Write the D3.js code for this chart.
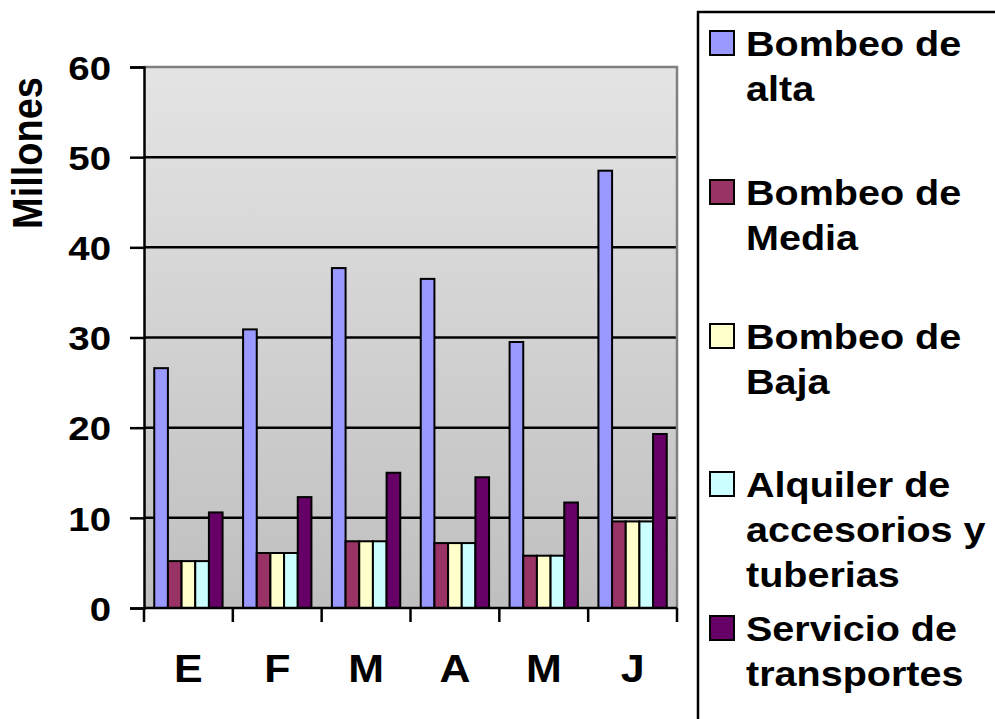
<!DOCTYPE html>
<html lang="es">
<head>
  <meta charset="UTF-8">
  <title>Millones por mes</title>
  <style>
    body { margin: 0; background: #fff; }
    text { font-family: Arial, "Liberation Sans", sans-serif; font-weight: bold; fill: #000; }
  </style>
</head>
<body>
  <svg id="svg" width="995" height="719"></svg>
  <script src="https://cdn.jsdelivr.net/npm/d3@7"></script>
  <script>
    const months = ['E', 'F', 'M', 'A', 'M ', 'J']
    const seriesNames = ['Bombeo de alta', 'Bombeo de Media', 'Bombeo de Baja', 'Alquiler de accesorios y tuberias', 'Servicio de transportes']
    const legendLines = [['Bombeo de', 'alta'], ['Bombeo de', 'Media'], ['Bombeo de', 'Baja'], ['Alquiler de', 'accesorios y', 'tuberias'], ['Servicio de', 'transportes']]
    const colors = ['#9999ff', '#993366', '#ffffcc', '#ccffff', '#660066']

    const bombeoAlta = [26.6, 30.9, 37.7, 36.5, 29.5, 48.5]
    const bombeoMedia = [5.2, 6.1, 7.4, 7.2, 5.8, 9.6]
    const bombeoBaja = [5.2, 6.1, 7.4, 7.2, 5.8, 9.6]
    const alquiler = [5.2, 6.1, 7.4, 7.2, 5.8, 9.6]
    const transportes = [10.6, 12.3, 15.0, 14.5, 11.7, 19.3]
    const yTicks = [0, 10, 20, 30, 40, 50, 60]

    const series = [bombeoAlta, bombeoMedia, bombeoBaja, alquiler, transportes]
    const data = months.map((m, i) => ({ month: m, values: series.map((s, j) => ({ key: seriesNames[j], color: colors[j], value: s[i] })) }))

    const plot = { left: 144, right: 677, top: 67, bottom: 608 }
    const stretch = 1.1

    const svg = d3.select('#svg')

    // background gradient
    const grad = svg.append('defs').append('linearGradient')
      .attr('id', 'bg').attr('x1', 0).attr('y1', 0).attr('x2', 0).attr('y2', 1)
    grad.append('stop').attr('offset', '0%').attr('stop-color', '#e4e4e4')
    grad.append('stop').attr('offset', '100%').attr('stop-color', '#bfbfbf')

    svg.append('rect')
      .attr('x', plot.left).attr('y', plot.top)
      .attr('width', plot.right - plot.left).attr('height', plot.bottom - plot.top)
      .attr('fill', 'url(#bg)')

    const x0 = d3.scaleBand()
      .domain(months)
      .range([plot.left, plot.right])

    const bw = x0.bandwidth()
    const pad = bw * 0.75 / 6.5 // gap width 150%
    const x1 = d3.scaleBand()
      .domain(seriesNames)
      .range([pad, bw - pad])

    const y = d3.scaleLinear()
      .domain([0, 60])
      .range([plot.bottom, plot.top])

    // gridlines
    svg.append('g')
      .selectAll('line')
      .data(yTicks.filter(d => d > 0 && d < 60))
      .enter()
      .append('line')
      .attr('x1', plot.left).attr('x2', plot.right)
      .attr('y1', d => y(d)).attr('y2', d => y(d))
      .attr('stroke', '#000').attr('stroke-width', 2.5)

    // gray border top and right
    svg.append('path')
      .attr('d', `M${plot.left},${plot.top}H${plot.right}V${plot.bottom}`)
      .attr('fill', 'none').attr('stroke', '#808080').attr('stroke-width', 2.5)

    // bars
    const groups = svg.append('g')
      .selectAll('g')
      .data(data)
      .enter()
      .append('g')
      .attr('transform', d => `translate(${x0(d.month)},0)`)

    groups.selectAll('rect')
      .data(d => d.values)
      .enter()
      .append('rect')
      .attr('x', d => x1(d.key))
      .attr('y', d => y(d.value))
      .attr('width', x1.bandwidth())
      .attr('height', d => plot.bottom - y(d.value))
      .attr('fill', d => d.color)
      .attr('stroke', '#000')
      .attr('stroke-width', 2)

    // left axis
    const leftAxis = d3.axisLeft(y)
      .tickValues(yTicks)
      .tickSize(14)
      .tickPadding(0)

    const gy = svg.append('g')
      .attr('transform', `translate(${plot.left}, 0)`)
      .call(leftAxis)
    gy.select('.domain').attr('stroke', '#000').attr('stroke-width', 2.5)
    gy.selectAll('.tick line').attr('stroke', '#000').attr('stroke-width', 2.5)
    gy.selectAll('.tick text')
      .attr('x', 0)
      .attr('dy', '0.36em')
      .attr('font-size', 34)
      .attr('transform', `translate(-33,0) scale(${stretch + 0.03},1)`)

    // bottom axis
    svg.append('line')
      .attr('x1', plot.left).attr('x2', plot.right)
      .attr('y1', plot.bottom).attr('y2', plot.bottom)
      .attr('stroke', '#000').attr('stroke-width', 2.5)

    const bounds = months.map(m => x0(m)).concat([plot.right])
    svg.append('g')
      .selectAll('line')
      .data(bounds)
      .enter()
      .append('line')
      .attr('x1', d => d).attr('x2', d => d)
      .attr('y1', plot.bottom).attr('y2', plot.bottom + 14)
      .attr('stroke', '#000').attr('stroke-width', 2.5)

    svg.append('g')
      .selectAll('text')
      .data(months)
      .enter()
      .append('text')
      .attr('text-anchor', 'middle')
      .attr('font-size', 39)
      .attr('transform', d => `translate(${x0(d) + bw / 2},682) scale(${stretch},1)`)
      .text(d => d.trim())

    // y title
    svg.append('text')
      .attr('text-anchor', 'middle')
      .attr('font-size', 38)
      .attr('transform', 'translate(42,153) rotate(-90) scale(1,1.1)')
      .text('Millones')

    // legend
    const legend = svg.append('g')
    legend.append('rect')
      .attr('x', 698).attr('y', 12)
      .attr('width', 400).attr('height', 800)
      .attr('fill', '#fff').attr('stroke', '#000').attr('stroke-width', 2.5)

    const baselines = [56, 205, 349, 497, 641]
    const items = legend.selectAll('.item')
      .data(legendLines)
      .enter()
      .append('g')
      .attr('class', 'item')
      .attr('transform', (d, i) => `translate(0,${baselines[i]})`)

    items.append('rect')
      .attr('x', 710).attr('y', -25)
      .attr('width', 24).attr('height', 24)
      .attr('fill', (d, i) => colors[i])
      .attr('stroke', '#000').attr('stroke-width', 2)

    items.each(function (lines) {
      const t = d3.select(this).append('text')
        .attr('font-size', 35)
        .attr('transform', `translate(746,0) scale(1.13,1)`)
      lines.forEach((line, k) => {
        t.append('tspan').attr('x', 0).attr('y', k * 45).text(line)
      })
    })
  </script>
</body>
</html>
